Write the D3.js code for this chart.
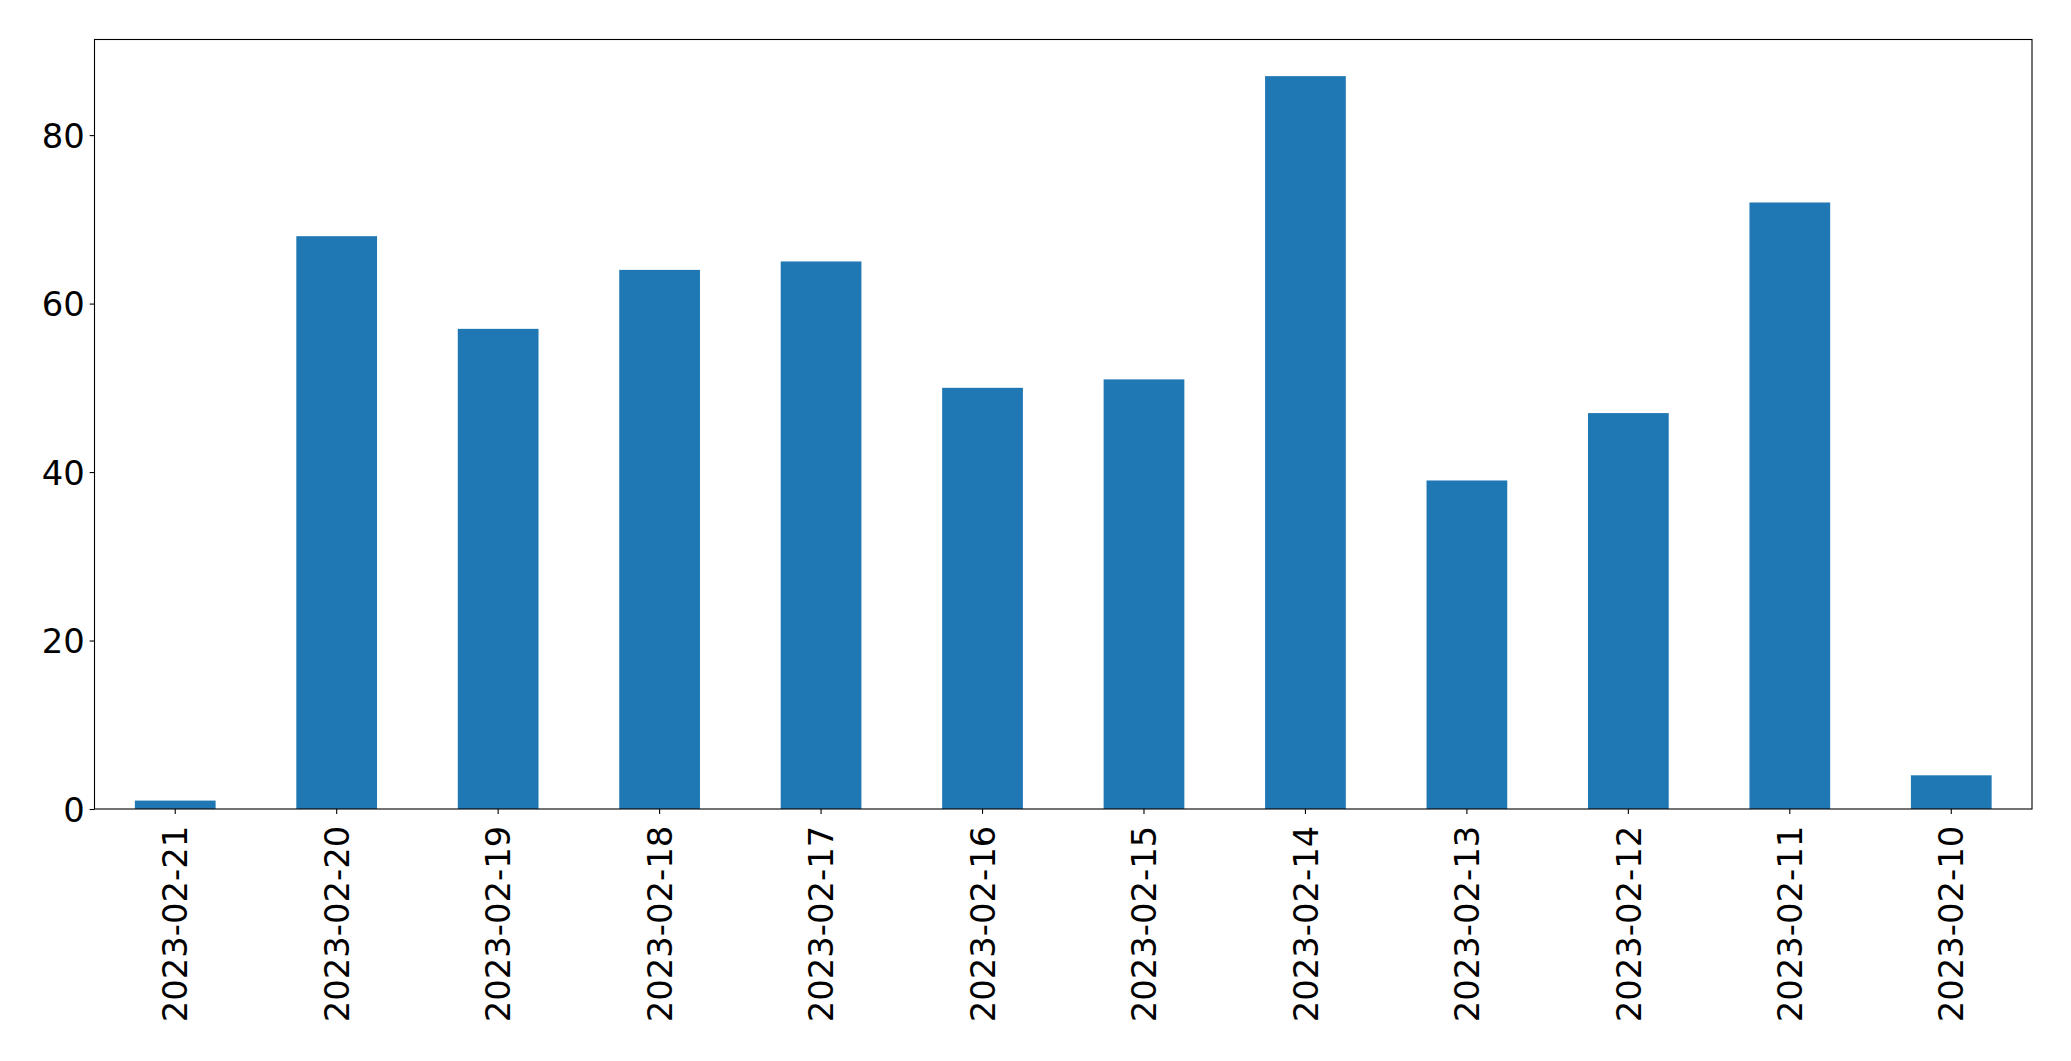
<!DOCTYPE html>
<html>
<head>
<meta charset="utf-8">
<script src="https://cdn.jsdelivr.net/npm/d3@7"></script>
<style>
  html, body { margin: 0; padding: 0; background: #fff; }
  svg { display: block; }
  text { font-family: "DejaVu Sans", sans-serif; fill: #000; }
</style>
</head>
<body>
<svg id="chart" width="2071" height="1061"></svg>
<script>
const categories = ["2023-02-21","2023-02-20","2023-02-19","2023-02-18","2023-02-17","2023-02-16","2023-02-15","2023-02-14","2023-02-13","2023-02-12","2023-02-11","2023-02-10"];
const values = [1, 68, 57, 64, 65, 50, 51, 87, 39, 47, 72, 4];
const yTicks = [0, 20, 40, 60, 80];

const W = 2071, H = 1061;
const margin = {left: 94.5, top: 39.5, right: 39, bottom: 252};
const iw = W - margin.left - margin.right;
const ih = H - margin.top - margin.bottom;
const fontSize = 33.8;
const tickLen = 4.9, tickPad = 4.9;

const svg = d3.select("#chart");
const g = svg.append("g").attr("transform", `translate(${margin.left},${margin.top})`);

const x = d3.scaleBand().domain(categories).range([0, iw]).paddingInner(0.5).paddingOuter(0.25).align(0.5);
const y = d3.scaleLinear().domain([0, d3.max(values) * 1.05]).range([ih, 0]);

g.selectAll("rect.bar").data(values).join("rect")
  .attr("class", "bar")
  .attr("x", (d, i) => x(categories[i]))
  .attr("width", x.bandwidth())
  .attr("y", d => y(d))
  .attr("height", d => y(0) - y(d))
  .attr("fill", "#1f77b4");

// frame
g.append("rect").attr("x", 0).attr("y", 0).attr("width", iw).attr("height", ih)
  .attr("fill", "none").attr("stroke", "#000").attr("stroke-width", 1.1);

// y axis
const yAxis = d3.axisLeft(y).tickValues(yTicks).tickSize(tickLen).tickPadding(tickPad).tickFormat(d3.format("d"));
const ya = g.append("g").call(yAxis);
ya.select(".domain").remove();
ya.selectAll("line").attr("stroke", "#000").attr("stroke-width", 1.1);
ya.selectAll("text").attr("font-size", fontSize).attr("font-family", "DejaVu Sans").attr("dy", "0.36em");

// x axis
const xAxis = d3.axisBottom(x).tickSize(tickLen).tickPadding(tickPad);
const xa = g.append("g").attr("transform", `translate(0,${ih})`).call(xAxis);
xa.select(".domain").remove();
xa.selectAll("line").attr("stroke", "#000").attr("stroke-width", 1.1);
xa.selectAll("text")
  .attr("font-size", fontSize).attr("font-family", "DejaVu Sans")
  .attr("text-anchor", "end")
  .attr("y", 0).attr("x", 0)
  .attr("dy", "0.36em")
  .attr("transform", `translate(0,${tickLen + tickPad + 7}) rotate(-90)`);
</script>
</body>
</html>
